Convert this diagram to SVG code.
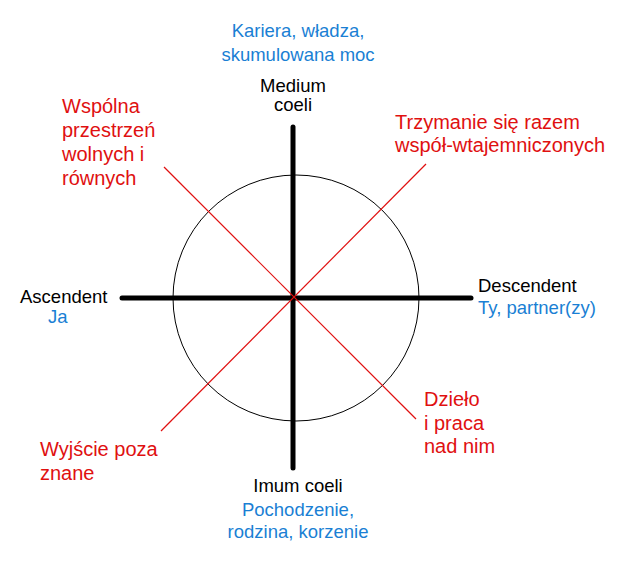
<svg xmlns="http://www.w3.org/2000/svg" width="628" height="565" viewBox="0 0 628 565" xml:space="preserve">
<style>
text{font-family:"Liberation Sans",Arial,sans-serif;font-size:18.5px}
.k{fill:#000}.b{fill:#1a7fd4}.r{fill:#e01010;font-size:20px}
.ax{stroke:#000;stroke-width:5;stroke-linecap:round}
.rd{stroke:#e01010;stroke-width:1.2}
</style>
<rect width="628" height="565" fill="#fff"/>
<g id="connectors">
<circle cx="296" cy="298" r="123" fill="none" stroke="#000" stroke-width="1"/>
<line class="ax" x1="293" y1="127" x2="293" y2="468"/>
<line class="ax" x1="122" y1="298" x2="471" y2="298"/>
<line class="rd" x1="164" y1="167" x2="416" y2="419"/>
<line class="rd" x1="426" y1="164" x2="161" y2="431"/>
</g>
<g id="mc"><text class="b" x="298" y="37" text-anchor="middle">Kariera, władza,</text><text class="b" x="298" y="61" text-anchor="middle">skumulowana  moc</text>
<text class="k" x="293" y="92" text-anchor="middle">Medium</text><text class="k" x="293" y="111" text-anchor="middle">coeli</text></g>
<g id="asc"><text class="k" x="20" y="303">Ascendent</text><text class="b" x="48" y="323">Ja</text></g>
<g id="dsc"><text class="k" x="478" y="292">Descendent</text><text class="b" x="478" y="314">Ty, partner(zy)</text></g>
<g id="ic"><text class="k" x="298" y="492" text-anchor="middle">Imum  coeli</text><text class="b" x="298" y="516" text-anchor="middle">Pochodzenie,</text><text class="b" x="298" y="538" text-anchor="middle">rodzina, korzenie</text></g>
<g id="nw"><text class="r" x="62" y="113">Wspólna</text><text class="r" x="62" y="137">przestrzeń</text><text class="r" x="62" y="161">wolnych i</text><text class="r" x="62" y="185">równych</text></g>
<g id="ne"><text class="r" x="395" y="129">Trzymanie się razem</text><text class="r" x="395" y="152">współ-wtajemniczonych</text></g>
<g id="se"><text class="r" x="424" y="406">Dzieło</text><text class="r" x="424" y="430">i praca</text><text class="r" x="424" y="453">nad nim</text></g>
<g id="sw"><text class="r" x="40" y="456">Wyjście poza</text><text class="r" x="40" y="480">znane</text></g>
</svg>
